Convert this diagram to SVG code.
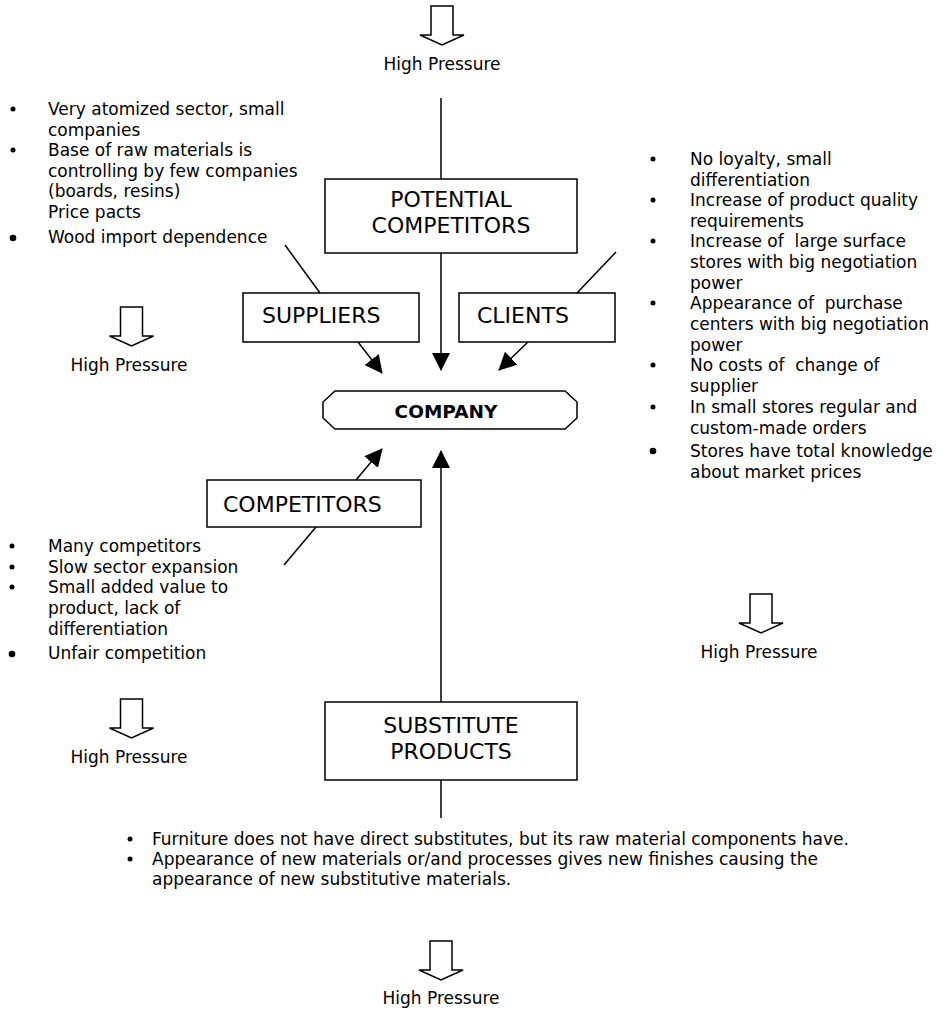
<svg xmlns="http://www.w3.org/2000/svg" width="946" height="1011" viewBox="0 0 946 1011">
<style>
text{font-family:"DejaVu Sans","Liberation Sans",sans-serif;fill:#000;white-space:pre}
.t{font-size:17px}
.lab{font-size:22px}
.hp{font-size:17px;text-anchor:middle}
.box{fill:#fff;stroke:#000;stroke-width:1.5}
.con{fill:none;stroke:#000;stroke-width:1.5}
.big{fill:none;stroke:#000;stroke-width:1.5}
</style>
<defs>
<marker id="ah" markerWidth="18" markerHeight="18" viewBox="0 0 18 18" refX="17" refY="9" orient="auto" markerUnits="userSpaceOnUse">
<path d="M0,0 L18,9 L0,18 Z" fill="#000"/>
</marker>
<path id="hollow" d="M-11,0 V29 H-22 L0,39 L22,29 H11 V0 Z" class="big"/>
</defs>
<rect width="946" height="1011" fill="#fff"/>

<g id="connectors">
<line class="con" x1="441" y1="98" x2="441" y2="179"/>
<line class="con" x1="441" y1="253" x2="441" y2="370" marker-end="url(#ah)"/>
<line class="con" x1="285" y1="245" x2="320" y2="293"/>
<line class="con" x1="358" y1="342" x2="382" y2="373" marker-end="url(#ah)"/>
<line class="con" x1="616" y1="252" x2="577" y2="293"/>
<line class="con" x1="528" y1="342" x2="499" y2="370" marker-end="url(#ah)"/>
<line class="con" x1="356" y1="480" x2="382" y2="449" marker-end="url(#ah)"/>
<line class="con" x1="316" y1="527" x2="284" y2="565"/>
<line class="con" x1="441" y1="702" x2="441" y2="451" marker-end="url(#ah)"/>
<line class="con" x1="441" y1="780" x2="441" y2="818"/>
</g>

<g id="potential-competitors">
<rect class="box" x="325" y="179" width="252" height="74"/>
<text class="lab" x="451" y="207" text-anchor="middle">POTENTIAL</text>
<text class="lab" x="451" y="233" text-anchor="middle">COMPETITORS</text>
</g>

<g id="suppliers">
<rect class="box" x="243" y="293" width="176" height="49"/>
<text class="lab" x="262" y="323">SUPPLIERS</text>
</g>

<g id="clients">
<rect class="box" x="459" y="293" width="156" height="49"/>
<text class="lab" x="477" y="323">CLIENTS</text>
</g>

<g id="company">
<path class="box" d="M335,391 H565 L577,402 V418 L565,429 H335 L323,418 V402 Z"/>
<text x="446" y="418" text-anchor="middle" font-size="18.5" font-weight="bold">COMPANY</text>
</g>

<g id="competitors">
<rect class="box" x="207" y="480" width="214" height="47"/>
<text class="lab" x="223" y="512">COMPETITORS</text>
</g>

<g id="substitute-products">
<rect class="box" x="325" y="702" width="252" height="78"/>
<text class="lab" x="451" y="733" text-anchor="middle">SUBSTITUTE</text>
<text class="lab" x="451" y="759" text-anchor="middle">PRODUCTS</text>
</g>

<g id="pressure-top">
<use href="#hollow" x="442" y="6"/>
<text class="hp" x="442" y="70">High Pressure</text>
</g>
<g id="pressure-suppliers">
<use href="#hollow" x="131.5" y="307"/>
<text class="hp" x="129" y="371">High Pressure</text>
</g>
<g id="pressure-clients">
<use href="#hollow" x="761" y="594"/>
<text class="hp" x="759" y="658">High Pressure</text>
</g>
<g id="pressure-competitors">
<use href="#hollow" x="131.5" y="699"/>
<text class="hp" x="129" y="763">High Pressure</text>
</g>
<g id="pressure-substitutes">
<use href="#hollow" x="441" y="941"/>
<text class="hp" x="441" y="1004">High Pressure</text>
</g>

<g id="suppliers-notes">
<circle cx="13" cy="109" r="2.5"/>
<circle cx="13" cy="150" r="2.5"/>
<circle cx="13" cy="238" r="3.3"/>
<text class="t" x="48" y="115">Very atomized sector, small</text>
<text class="t" x="48" y="136">companies</text>
<text class="t" x="48" y="156">Base of raw materials is</text>
<text class="t" x="48" y="177">controlling by few companies</text>
<text class="t" x="48" y="197">(boards, resins)</text>
<text class="t" x="48" y="218">Price pacts</text>
<text class="t" x="48" y="243">Wood import dependence</text>
</g>

<g id="clients-notes">
<circle cx="653" cy="159" r="2.5"/>
<circle cx="653" cy="200" r="2.5"/>
<circle cx="653" cy="241" r="2.5"/>
<circle cx="653" cy="303" r="2.5"/>
<circle cx="653" cy="365" r="2.5"/>
<circle cx="653" cy="407" r="2.5"/>
<circle cx="653" cy="451" r="3.3"/>
<text class="t" x="690" y="165">No loyalty, small</text>
<text class="t" x="690" y="186">differentiation</text>
<text class="t" x="690" y="206">Increase of product quality</text>
<text class="t" x="690" y="227">requirements</text>
<text class="t" x="690" y="247">Increase of  large surface</text>
<text class="t" x="690" y="268">stores with big negotiation</text>
<text class="t" x="690" y="289">power</text>
<text class="t" x="690" y="309">Appearance of  purchase</text>
<text class="t" x="690" y="330">centers with big negotiation</text>
<text class="t" x="690" y="351">power</text>
<text class="t" x="690" y="371">No costs of  change of</text>
<text class="t" x="690" y="392">supplier</text>
<text class="t" x="690" y="413">In small stores regular and</text>
<text class="t" x="690" y="434">custom-made orders</text>
<text class="t" x="690" y="457">Stores have total knowledge</text>
<text class="t" x="690" y="478">about market prices</text>
</g>

<g id="competitors-notes">
<circle cx="12" cy="546" r="2.5"/>
<circle cx="12" cy="567" r="2.5"/>
<circle cx="12" cy="587" r="2.5"/>
<circle cx="12" cy="654" r="3.3"/>
<text class="t" x="48" y="552">Many competitors</text>
<text class="t" x="48" y="573">Slow sector expansion</text>
<text class="t" x="48" y="593">Small added value to</text>
<text class="t" x="48" y="614">product, lack of</text>
<text class="t" x="48" y="635">differentiation</text>
<text class="t" x="48" y="659">Unfair competition</text>
</g>

<g id="substitutes-notes">
<circle cx="130" cy="839" r="2.5"/>
<circle cx="130" cy="859" r="2.5"/>
<text class="t" x="152" y="845">Furniture does not have direct substitutes, but its raw material components have.</text>
<text class="t" x="152" y="865">Appearance of new materials or/and processes gives new finishes causing the</text>
<text class="t" x="152" y="885">appearance of new substitutive materials.</text>
</g>
</svg>
